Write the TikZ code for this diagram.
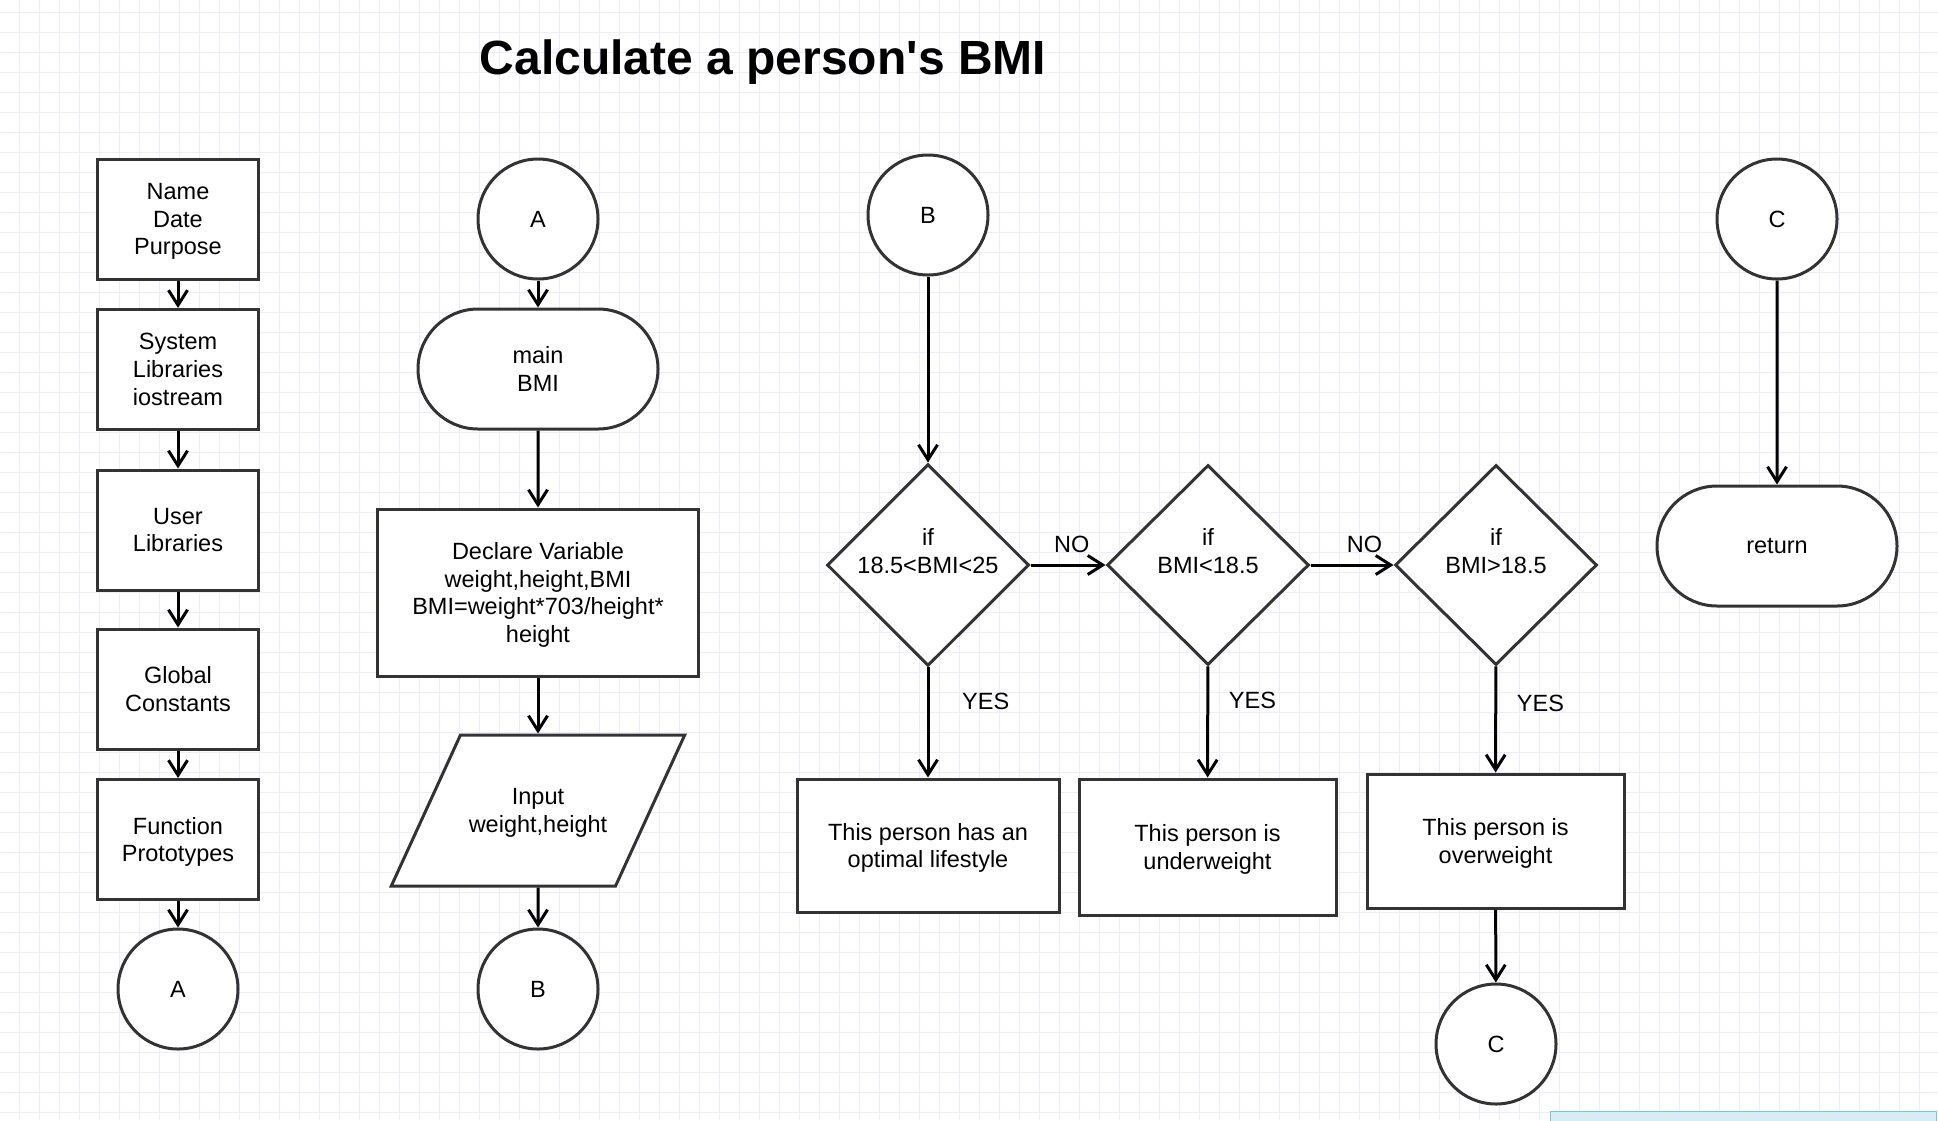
\documentclass[tikz,border=0pt]{standalone}
\usepackage{fontspec}
\setmainfont{Liberation Sans}
\usepackage{tikz}
\usetikzlibrary{arrows.meta,shapes.geometric,shapes.misc}
\definecolor{ln}{RGB}{51,51,51}
\definecolor{gridc}{RGB}{236,236,254}
\definecolor{tabfill}{RGB}{214,237,246}
\definecolor{tabline}{RGB}{125,195,227}

\begin{document}
\begin{tikzpicture}[x=0.5pt,y=-0.5pt,
  every node/.style={font=\fontsize{11.75pt}{13.9pt}\selectfont},
  box/.style={draw=ln,line width=1.5pt,fill=white,align=center,inner sep=2pt,text depth=0pt},
  proc/.style={box,rectangle},
  conn/.style={box,circle,minimum size=60pt},
  term/.style={box,rounded rectangle,minimum width=124pt,minimum height=60pt},
  test/.style={box,diamond,aspect=1,inner sep=-1.5pt,text depth=14pt,minimum width=101pt,minimum height=100pt},
  io/.style={box,trapezium,trapezium left angle=38.5,trapezium right angle=141.5,trapezium stretches=true,minimum width=147pt,minimum height=75.5pt},
  flow/.style={-{Straight Barb[length=7.5pt,width=9.5pt]},line width=1.5pt,black}]
  \useasboundingbox (0,0) rectangle (1938,1120);

  % grid paper
  \fill[white] (0,0) rectangle (1938,1120);
  \foreach \gx in {19,39,...,1938} \draw[gridc,line width=0.5pt] (\gx,0) -- (\gx,1120);
  \foreach \gy in {12,32,...,1120} \draw[gridc,line width=0.5pt] (0,\gy) -- (1938,\gy);
  \draw[tabline,fill=tabfill,line width=0.5pt] (1550,1111) rectangle (1936,1122);

  % title
  \node[font=\fontsize{24pt}{28pt}\selectfont\bfseries] (title) at (763,62) {Calculate a person\textquotesingle s BMI};

  % left column
  \node[proc,minimum width=80.5pt,minimum height=60pt] (head) at (178,219) {Name\\Date\\Purpose};
  \node[proc,minimum width=80.5pt,minimum height=60pt] (syslib) at (178,369.5) {System\\Libraries\\iostream};
  \node[proc,minimum width=80.5pt,minimum height=60pt] (usrlib) at (178,530) {User\\Libraries};
  \node[proc,minimum width=80.5pt,minimum height=60pt] (glob) at (178,689) {Global\\Constants};
  \node[proc,minimum width=80.5pt,minimum height=60pt] (proto) at (178,839.5) {Function\\Prototypes};
  \node[conn] (toA) at (178,989) {A};

  \draw[flow] (head) -- (syslib);
  \draw[flow] (syslib) -- (usrlib);
  \draw[flow] (usrlib) -- (glob);
  \draw[flow] (glob) -- (proto);
  \draw[flow] (proto) -- (toA);

  % main column
  \node[conn] (fromA) at (538,219) {A};
  \node[term] (mainbmi) at (538,369) {main\\BMI};
  \node[proc,minimum width=160.5pt,minimum height=83.5pt] (decl) at (538,592.5) {Declare Variable\\weight,height,BMI\\BMI=weight*703/height*\\height};
  \node[io] (input) at (538,810.5) {Input\\weight,height};
  \node[conn] (toB) at (538,989) {B};

  \draw[flow] (fromA) -- (mainbmi);
  \draw[flow] (mainbmi) -- (decl);
  \draw[flow] (decl) -- (input);
  \draw[flow] (input) -- (toB);

  % decisions
  \node[conn] (fromB) at (928,215) {B};
  \node[test] (ifopt) at (928,565) {if\\18.5<BMI<25};
  \node[test] (ifunder) at (1208,565) {if\\BMI<18.5};
  \node[test] (ifover) at (1496,565) {if\\BMI>18.5};
  \node[proc,minimum width=131pt,minimum height=66.5pt] (optimal) at (928,845.5) {This person has an\\optimal lifestyle};
  \node[proc,minimum width=128.5pt,minimum height=68pt] (under) at (1207.5,847) {This person is\\underweight};
  \node[proc,minimum width=128.5pt,minimum height=67pt] (over) at (1495.5,841) {This person is\\overweight};
  \node[conn] (toC) at (1496,1044) {C};

  \draw[flow] (fromB) -- (ifopt);
  \draw[flow] (ifopt) -- node[above=2pt,pos=.55] {NO} (ifunder);
  \draw[flow] (ifunder) -- node[above=2pt,pos=.65] {NO} (ifover);
  \draw[flow] (ifopt) -- node[right=13pt,pos=.31] {YES} (optimal);
  \draw[flow] (ifunder) -- node[right=6.5pt,pos=.31] {YES} (under);
  \draw[flow] (ifover) -- node[right=6.5pt,pos=.35] {YES} (over);
  \draw[flow] (over) -- (toC);

  % return
  \node[conn] (fromC) at (1777,219) {C};
  \node[term] (ret) at (1777,546) {return};
  \draw[flow] (fromC) -- (ret);
\end{tikzpicture}
\end{document}
